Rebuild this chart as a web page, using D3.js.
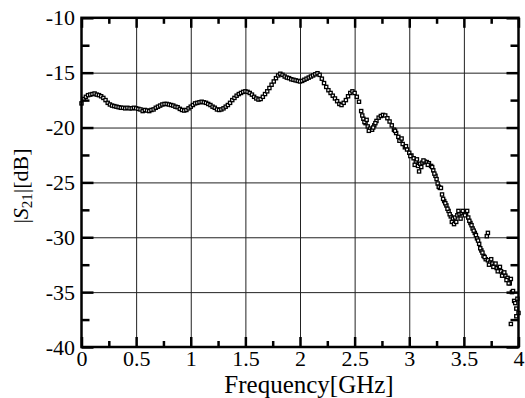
<!DOCTYPE html>
<html>
<head>
<meta charset="utf-8">
<script src="https://cdn.jsdelivr.net/npm/d3@7"></script>
<style>
  body { margin: 0; background: #fff; }
  svg { display: block; }
  .grid line { stroke: #222; stroke-width: 1; }
  .grid .domain { display: none; }
  .axis .domain { display: none; }
  .axis line { stroke: #000; stroke-width: 2.5; }
</style>
</head>
<body>
<svg width="525" height="398"></svg>
<script>
// sweep settings (GHz)
var sweepStart = 0, sweepStep = 0.02;

// |S21| in dB, one value per sweep step
var s21 = [
  -17.8, -17.4, -17.2, -17.05, -17.0, -16.95, -16.9, -17.0, -17.05, -17.15,
  -17.3, -17.5, -17.75, -17.9, -18.0, -18.05, -18.1, -18.15, -18.2, -18.2,
  -18.25, -18.2, -18.25, -18.25, -18.2, -18.25, -18.3, -18.35, -18.5, -18.4,
  -18.45, -18.5, -18.4, -18.35, -18.2, -18.1, -18.0, -17.9, -17.85, -17.85,
  -17.9, -17.95, -18.0, -18.1, -18.15, -18.3, -18.4, -18.45, -18.4, -18.25,
  -18.1, -17.95, -17.8, -17.75, -17.7, -17.65, -17.7, -17.75, -17.85, -17.95,
  -18.1, -18.2, -18.35, -18.4, -18.35, -18.25, -18.1, -17.95, -17.75, -17.5,
  -17.3, -17.1, -16.95, -16.85, -16.75, -16.7, -16.75, -16.85, -17.0, -17.2,
  -17.35, -17.45, -17.4, -17.2, -16.95, -16.7, -16.4, -16.1, -15.8, -15.5,
  -15.25, -15.1, -15.2, -15.35, -15.45, -15.5, -15.6, -15.65, -15.7, -15.75,
  -15.8, -15.75, -15.65, -15.55, -15.45, -15.35, -15.25, -15.15, -15.05, -15.2,
  -15.55, -15.95, -16.3, -16.6, -16.85, -17.1, -17.35, -17.6, -17.85, -17.95,
  -17.75, -17.5, -17.15, -16.85, -16.7, -16.85, -17.2, -17.65, -18.5, -19.2,
  -19.6, -19.9, -20.1, -20.2, -19.8, -19.4, -19.1, -18.95, -18.85, -18.9,
  -19.15, -19.45, -19.8, -20.2, -20.5, -20.85, -21.2, -21.5, -21.8, -22.0,
  -22.3, -22.55, -22.8, -23.1, -23.5, -23.3, -23.2, -23.1, -23.15, -23.25,
  -23.5, -23.9, -24.4, -25.1, -25.5, -26.1, -26.7, -27.1, -27.6, -28.1,
  -28.3, -28.2, -28.0, -27.9, -27.8, -27.75, -27.85, -28.2, -28.7, -29.2,
  -29.6, -30.1, -30.6, -31.2, -31.7, -32.0, -32.1, -32.3, -32.4, -32.6,
  -32.8, -32.9, -33.1, -33.3, -33.5, -33.7, -34.2, -35.0, -35.8, -36.5,
  -36.9
];

// scattered extra samples in the noisy upper band [GHz, dB]
var s21Scatter = [
  [2.57, -18.9], [2.59, -19.5], [2.61, -19.3], [2.63, -20.3], [2.67, -20.0],
  [2.69, -19.6], [2.87, -20.3], [2.91, -21.2], [2.93, -21.0], [2.97, -21.7],
  [3.01, -22.6], [3.05, -23.4], [3.07, -22.9], [3.09, -24.0], [3.11, -23.6],
  [3.13, -23.0], [3.17, -23.4], [3.21, -23.6], [3.23, -24.2], [3.25, -24.7],
  [3.27, -25.4], [3.29, -25.5], [3.31, -26.5], [3.33, -26.9], [3.35, -27.4],
  [3.37, -27.9], [3.39, -28.6], [3.41, -28.8], [3.43, -28.6], [3.45, -27.6],
  [3.47, -28.3], [3.49, -27.6], [3.51, -28.0], [3.53, -27.6], [3.55, -28.5],
  [3.57, -28.9], [3.59, -29.4], [3.61, -29.8], [3.63, -30.3], [3.65, -31.0],
  [3.67, -31.4], [3.69, -31.8], [3.71, -29.9], [3.72, -29.6], [3.73, -32.5],
  [3.75, -32.0], [3.77, -32.7], [3.79, -32.4], [3.81, -33.1], [3.83, -32.7],
  [3.85, -33.5], [3.87, -33.2], [3.89, -33.9], [3.91, -34.2], [3.93, -33.8],
  [3.95, -34.9], [3.97, -36.0], [3.99, -35.6], [3.93, -37.9], [3.98, -37.2]
];

var xTicks = [0, 0.5, 1, 1.5, 2, 2.5, 3, 3.5, 4];
var xMinor = [0.25, 0.75, 1.25, 1.75, 2.25, 2.75, 3.25, 3.75];
var yTicks = [-40, -35, -30, -25, -20, -15, -10];
var yMinor = [-37.5, -32.5, -27.5, -22.5, -17.5, -12.5];

var serif = "'Liberation Serif', 'Times New Roman', serif";

var svg = d3.select("svg"),
    plot = {left: 81.5, right: 518.5, top: 17.8, bottom: 347};

var x = d3.scaleLinear().domain([0, 4]).range([plot.left, plot.right]),
    y = d3.scaleLinear().domain([-40, -10]).range([plot.bottom, plot.top]);

var points = s21.map(function(v, i) { return [sweepStart + i * sweepStep, v]; })
  .concat(s21Scatter);

// grid lines
svg.append("g")
  .attr("class", "grid")
  .attr("transform", "translate(0," + plot.bottom + ")")
  .call(d3.axisBottom(x).tickValues(xTicks.slice(1, -1)).tickSize(-(plot.bottom - plot.top)).tickFormat(""));

svg.append("g")
  .attr("class", "grid")
  .attr("transform", "translate(" + plot.left + ",0)")
  .call(d3.axisLeft(y).tickValues(yTicks.slice(1, -1)).tickSize(-(plot.right - plot.left)).tickFormat(""));

// data points
svg.append("g")
  .selectAll("rect")
  .data(points)
  .enter().append("rect")
  .attr("x", function(d) { return x(d[0]) - 1.6; })
  .attr("y", function(d) { return y(d[1]) - 1.6; })
  .attr("width", 3.2)
  .attr("height", 3.2)
  .attr("fill", "#fff")
  .attr("stroke", "#000")
  .attr("stroke-width", 1.3);

// major ticks + labels (inward)
var xAxis = svg.append("g")
  .attr("class", "axis")
  .attr("transform", "translate(0," + plot.bottom + ")")
  .call(d3.axisBottom(x).tickValues(xTicks).tickSize(-10).tickPadding(3).tickFormat(d3.format("")));

svg.append("g")
  .attr("class", "axis")
  .attr("transform", "translate(0," + plot.top + ")")
  .call(d3.axisTop(x).tickValues(xTicks).tickSize(-10).tickFormat(""));

var yAxis = svg.append("g")
  .attr("class", "axis")
  .attr("transform", "translate(" + plot.left + ",0)")
  .call(d3.axisLeft(y).tickValues(yTicks).tickSize(-12).tickPadding(6.5).tickFormat(function(d) { return String(d); }));

svg.append("g")
  .attr("class", "axis")
  .attr("transform", "translate(" + plot.right + ",0)")
  .call(d3.axisRight(y).tickValues(yTicks).tickSize(-12).tickFormat(""));

[xAxis, yAxis].forEach(function(g) {
  g.attr("font-family", serif).attr("font-size", 22);
  g.selectAll("text").attr("fill", "#000");
});

// minor ticks
svg.append("g")
  .attr("class", "axis")
  .attr("transform", "translate(0," + plot.bottom + ")")
  .call(d3.axisBottom(x).tickValues(xMinor).tickSize(-6).tickFormat(""));

svg.append("g")
  .attr("class", "axis")
  .attr("transform", "translate(0," + plot.top + ")")
  .call(d3.axisTop(x).tickValues(xMinor).tickSize(-6).tickFormat(""));

svg.append("g")
  .attr("class", "axis")
  .attr("transform", "translate(" + plot.left + ",0)")
  .call(d3.axisLeft(y).tickValues(yMinor).tickSize(-8).tickFormat(""));

svg.append("g")
  .attr("class", "axis")
  .attr("transform", "translate(" + plot.right + ",0)")
  .call(d3.axisRight(y).tickValues(yMinor).tickSize(-8).tickFormat(""));

// frame
svg.append("rect")
  .attr("x", plot.left)
  .attr("y", plot.top)
  .attr("width", plot.right - plot.left)
  .attr("height", plot.bottom - plot.top)
  .attr("fill", "none")
  .attr("stroke", "#000")
  .attr("stroke-width", 2.5);

// axis titles
svg.append("text")
  .attr("x", 309)
  .attr("y", 393)
  .attr("text-anchor", "middle")
  .attr("font-family", serif)
  .attr("font-size", 25)
  .text("Frequency[GHz]");

var yTitle = svg.append("text")
  .attr("text-anchor", "middle")
  .attr("transform", "translate(28,186)rotate(-90)")
  .attr("font-family", serif)
  .attr("font-size", 22);
yTitle.append("tspan").text("|");
yTitle.append("tspan").attr("font-style", "italic").text("S");
yTitle.append("tspan").attr("dy", 4).attr("font-size", 15).text("21");
yTitle.append("tspan").attr("dy", -4).text("|[dB]");
</script>
</body>
</html>
